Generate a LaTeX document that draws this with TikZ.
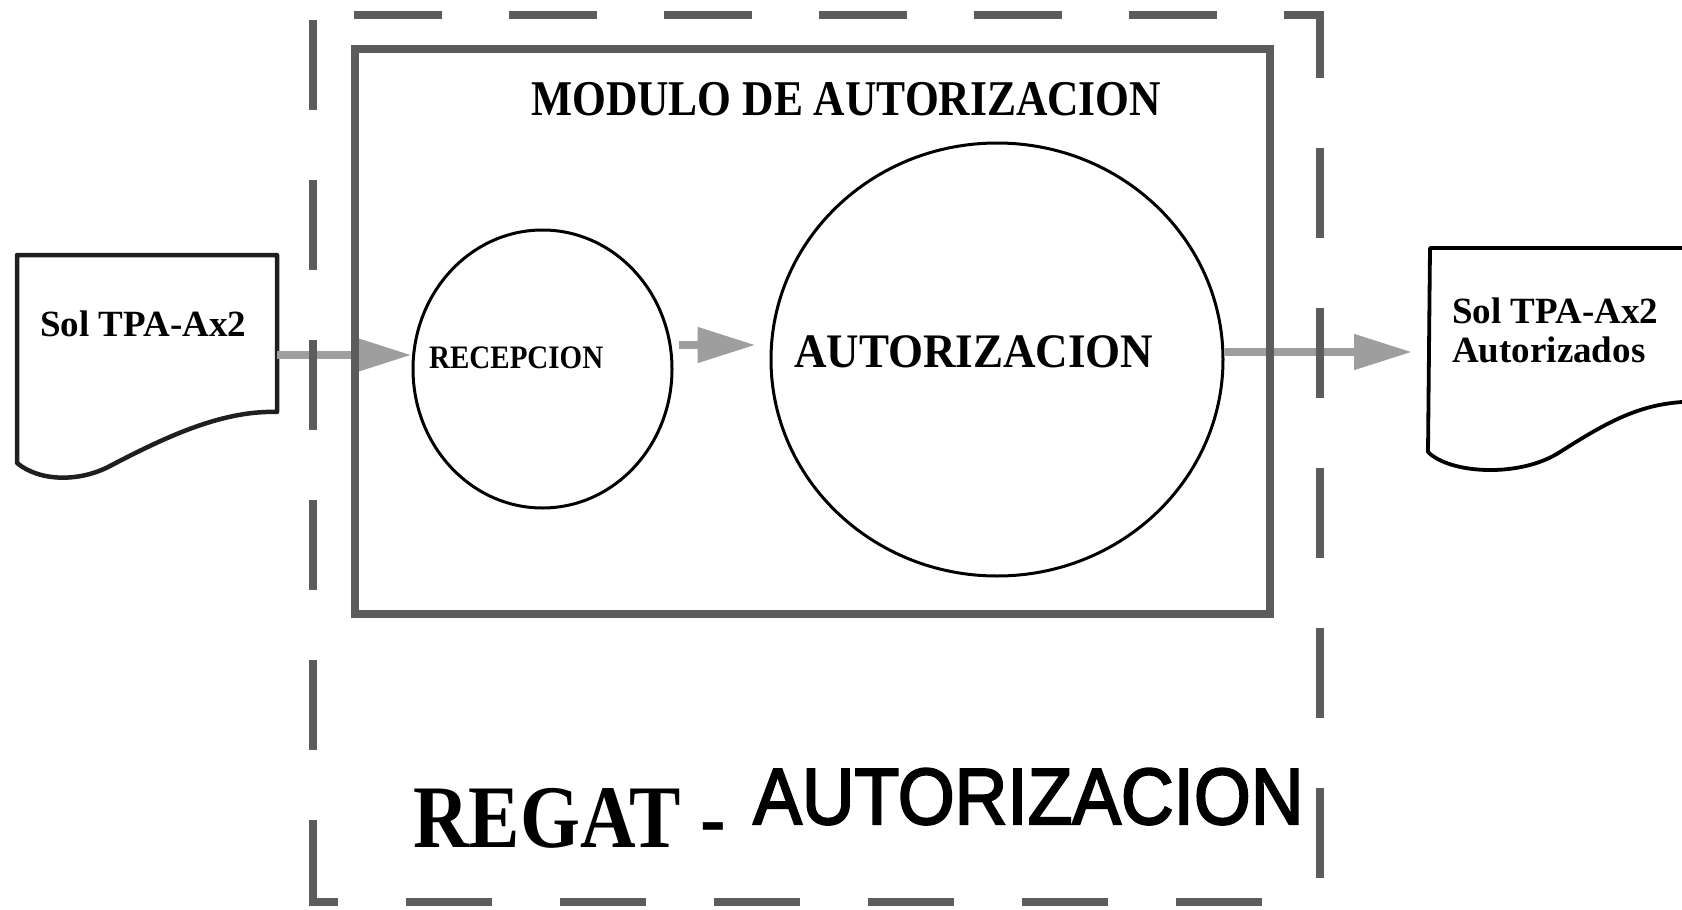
\documentclass[tikz,border=0pt]{standalone}
\usepackage{fontspec}
\setmainfont{Liberation Serif}
\newfontfamily\arialf{Liberation Sans}
\usetikzlibrary{arrows.meta,shapes.geometric}

\newcommand{\heavytext}[1]{\special{pdf:literal direct 2 Tr 2 w 0 0 0 RG}#1\special{pdf:literal direct 0 Tr 1 w}}

\tikzset{
  boxline/.style={draw=black!64, line width=8pt},
  outerdash/.style={draw=black!64, line width=8pt, line cap=rect},
  docline/.style={draw=black!88, line width=4.5pt, line join=round},
  bubble/.style={ellipse, draw=black, line width=3pt, inner sep=0pt},
  flow/.style={draw=black!38, line width=8pt, -{Triangle[length=58pt,width=34pt,fill=black!38]}},
  lbl/.style={anchor=base west, inner sep=0pt, font=\bfseries},
}

\begin{document}
\begin{tikzpicture}[x=1pt,y=-1pt]
\useasboundingbox (0,0) rectangle (1682,910);

% documents
\draw[docline] (17,255) -- (277,255) -- (277,412)
  .. controls (220,410) and (160,440) .. (110,466)
  .. controls (80,482) and (40,482) .. (17,463) -- cycle;
\draw[line width=3.8pt, line join=round] (1682,248) -- (1430,248) -- (1428,452)
  .. controls (1450,474) and (1520,478) .. (1560,452)
  .. controls (1610,420) and (1640,405) .. (1682,402);

% processes
\node[bubble, minimum width=259pt, minimum height=278pt] (rec) at (542.5,369) {};
\node[bubble, minimum width=452pt, minimum height=433pt] (aut) at (997,359.5) {};

% texts
\node[lbl] (title) at (531,115) {\fontsize{43.5}{50}\selectfont\scalebox{1}[1.15]{MODULO DE AUTORIZACION}};
\node[lbl] (rectext) at (429,368) {\fontsize{29}{34}\selectfont\scalebox{1}[1.13]{RECEPCION}};
\node[lbl] (auttext) at (794,367) {\fontsize{45}{50}\selectfont\scalebox{1}[1.07]{AUTORIZACION}};
\node[lbl] (ldoc) at (40,336) {\fontsize{37}{40}\selectfont Sol TPA-Ax2};
\node[lbl] (rdoc1) at (1452,323) {\fontsize{37}{40}\selectfont Sol TPA-Ax2};
\node[lbl] (rdoc2) at (1452,362) {\fontsize{37}{40}\selectfont Autorizados};
\node[lbl] (regatA) at (413,847) {\fontsize{77}{80}\selectfont\scalebox{1}[1.16]{REGAT -}};
\node[anchor=base west, inner sep=0pt] (regatB) at (753,824) {\arialf\fontsize{73}{80}\selectfont\scalebox{1}[1.09]{\heavytext{AUTORIZACION}}};

% connectors
\coordinate (ldocE) at (277,355);
\coordinate (midy) at (0,345);
\coordinate (rdocW) at (1412,352);
\draw[flow] (ldocE) -- (rec.west |- ldocE);
\draw[flow, shorten <=5pt, shorten >=14pt] (rec.east |- midy) -- (aut.west |- midy);
\draw[flow] (aut.east |- rdocW) -- (rdocW);

% module box
\node[boxline, inner sep=0pt, minimum width=915pt, minimum height=565pt] (modulo) at (812.5,331.5) {};

% outer dashed box (REGAT)
\node[inner sep=0pt, minimum width=1007pt, minimum height=887pt] (regat) at (816.5,458.5) {};
\draw[outerdash, dash pattern=on 80pt off 75pt, dash phase=110pt] (regat.north west) -- (regat.north east);
\draw[outerdash, dash pattern=on 82pt off 78pt, dash phase=151pt] (regat.north west) -- (regat.south west);
\draw[outerdash, dash pattern=on 82pt off 78pt, dash phase=23pt] (regat.north east) -- (regat.south east);
\draw[outerdash, dash pattern=on 78pt off 76pt, dash phase=57pt] (regat.south west) -- (regat.south east);
\end{tikzpicture}
\end{document}
